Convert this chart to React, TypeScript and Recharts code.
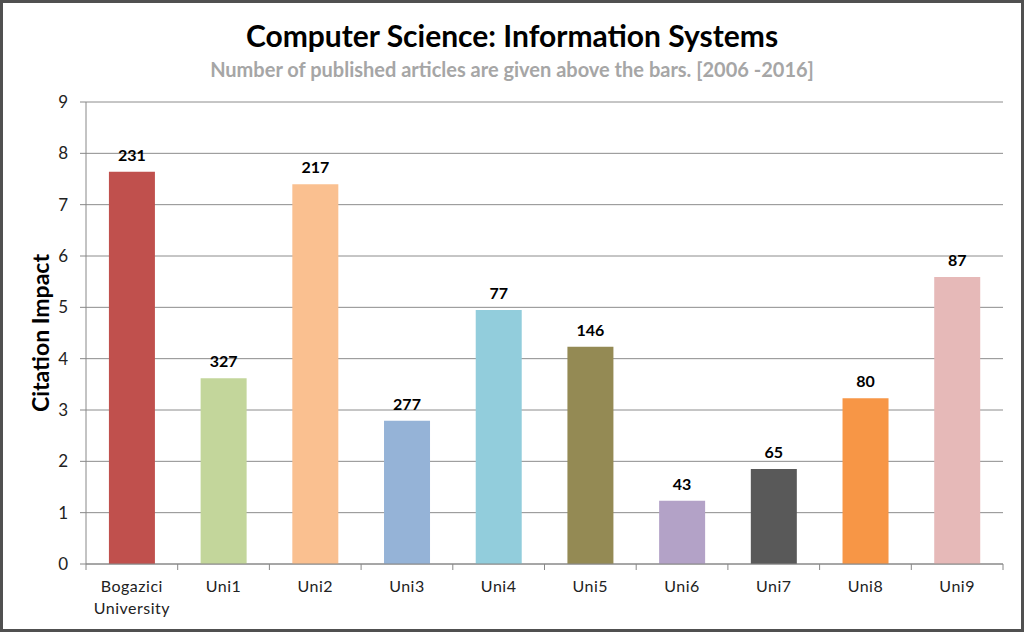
import { Bar, BarChart, CartesianGrid, Cell, LabelList, XAxis, YAxis } from 'recharts';

const universities = ['Bogazici University', 'Uni1', 'Uni2', 'Uni3', 'Uni4', 'Uni5', 'Uni6', 'Uni7', 'Uni8', 'Uni9'];
const citationImpact = [7.64, 3.62, 7.4, 2.79, 4.95, 4.23, 1.23, 1.85, 3.23, 5.59];
const articleCounts = [231, 327, 217, 277, 77, 146, 43, 65, 80, 87];
const barColors = ['#C0504D', '#C3D69B', '#FAC090', '#95B3D7', '#92CDDC', '#948A54', '#B3A2C7', '#595959', '#F79646', '#E6B9B8'];
const yTicks = [0, 1, 2, 3, 4, 5, 6, 7, 8, 9];

const FONT = 'Lato, "Open Sans", sans-serif';
const BAND = 91.7;

const data = universities.map((name, i) => ({
  name,
  impact: citationImpact[i],
  articles: articleCounts[i],
}));

function CategoryTick(props: any) {
  const { x, y, payload, index } = props;
  const words = String(payload.value).split(' ');
  const left = x - BAND / 2;
  return (
    <g>
      <line x1={left} x2={left} y1={y - 8} y2={y - 2} stroke="#888" />
      {index === universities.length - 1 && (
        <line x1={left + BAND} x2={left + BAND} y1={y - 8} y2={y - 2} stroke="#888" />
      )}
      <text x={x} y={y + 20} textAnchor="middle" fill="#222" fontSize={16} letterSpacing={0.5} fontFamily={FONT}>
        {words.map((w, i) => (
          <tspan key={i} x={x} dy={i === 0 ? 0 : 22}>
            {w}
          </tspan>
        ))}
      </text>
    </g>
  );
}

export default function App() {
  return (
    <div
      style={{
        position: 'absolute',
        left: 0,
        top: 0,
        width: 1024,
        height: 632,
        background: '#fff',
        border: '3px solid #505050',
        boxSizing: 'border-box',
        fontFamily: FONT,
      }}
    >
      <div style={{ position: 'absolute', left: -3, top: 14, width: 1024, textAlign: 'center', fontSize: 30, fontWeight: 700, color: '#000', lineHeight: '36px' }}>
        Computer Science: Information Systems
      </div>
      <div style={{ position: 'absolute', left: -3, top: 54, width: 1024, textAlign: 'center', fontSize: 20, fontWeight: 700, color: '#A6A6A6', lineHeight: '24px' }}>
        Number of published articles are given above the bars. [2006 -2016]
      </div>
      <div
        style={{
          position: 'absolute',
          left: 37,
          top: 330,
          transform: 'translate(-50%, -50%) rotate(-90deg)',
          fontSize: 23,
          fontWeight: 700,
          whiteSpace: 'nowrap',
          color: '#000',
        }}
      >
        Citation Impact
      </div>
      <div style={{ position: 'absolute', left: -3, top: -3 }}>
        <BarChart
          width={1024}
          height={632}
          data={data}
          margin={{ top: 102, right: 21, bottom: 8, left: 0 }}
          barCategoryGap="25%"
        >
          <CartesianGrid vertical={false} stroke="#8c8c8c" />
          <XAxis
            dataKey="name"
            interval={0}
            height={60}
            stroke="#888"
            tickLine={false}
            tick={<CategoryTick />}
          />
          <YAxis
            domain={[0, 9]}
            ticks={yTicks}
            width={86}
            stroke="#888"
            tickSize={6}
            tickMargin={12}
            tick={{ fill: '#222', fontSize: 17, fontFamily: FONT }}
          />
          <Bar dataKey="impact" isAnimationActive={false}>
            {data.map((d, i) => (
              <Cell key={d.name} fill={barColors[i]} />
            ))}
            <LabelList
              dataKey="articles"
              position="top"
              offset={11}
              fill="#000"
              fontSize={16}
              fontWeight={700}
              fontFamily={FONT}
            />
          </Bar>
        </BarChart>
      </div>
    </div>
  );
}
